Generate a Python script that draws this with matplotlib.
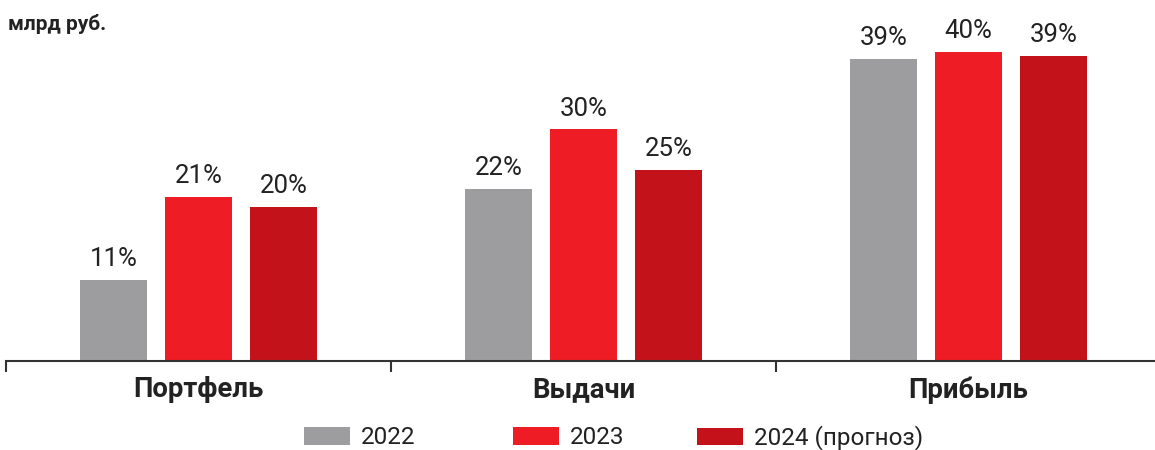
import matplotlib
matplotlib.use("Agg")
import matplotlib.pyplot as plt
from matplotlib.patches import Patch
import numpy as np

categories = ["Портфель", "Выдачи", "Прибыль"]
series_names = ["2022", "2023", "2024 (прогноз)"]
values_2022 = [10.5, 22.3, 39.1]
values_2023 = [21.2, 30.0, 40.0]
values_2024 = [19.9, 24.7, 39.5]
labels_2022 = ["11%", "22%", "39%"]
labels_2023 = ["21%", "30%", "40%"]
labels_2024 = ["20%", "25%", "39%"]
unit_label = "млрд руб."

colors = ["#9D9D9F", "#EE1C25", "#C4121A"]
plt.rcParams['font.family'] = ['Roboto', 'DejaVu Sans']

fig = plt.figure(figsize=(11.55, 4.5), dpi=100)
ax = fig.add_axes([6/1155, 89/450, 1149/1155, 361/450])

x = np.arange(len(categories))
width = 0.174
offset = 0.221
series = [values_2022, values_2023, values_2024]
labels = [labels_2022, labels_2023, labels_2024]
for i, (vals, labs) in enumerate(zip(series, labels)):
    xs = x + (i - 1) * offset
    ax.bar(xs, vals, width=width, color=colors[i], zorder=2)
    for xi, v, lab in zip(xs, vals, labs):
        ax.annotate(lab, (xi, v), xytext=(0, 10), textcoords="offset points",
                    ha="center", va="baseline", fontsize=18.5, color="#222222")

ax.set_xlim(-0.5, -0.5 + 1149/385)
ax.set_ylim(0, 361/7.72)
for s in ["top", "right", "left"]:
    ax.spines[s].set_visible(False)
ax.spines["bottom"].set_color("#333333")
ax.spines["bottom"].set_linewidth(1.5)
ax.set_yticks([])
ax.set_xticks(x)
ax.set_xticklabels(categories, fontsize=19.8, fontweight="bold", color="#222222")
ax.tick_params(axis="x", which="major", length=0, pad=11)
ax.set_xticks([-0.5, 0.5, 1.5], minor=True)
ax.tick_params(axis="x", which="minor", length=8, width=1.5, color="#333333")

fig.text(8/1155, 1 - 24/450, unit_label, fontsize=15, fontweight="bold",
         color="#222222", va="center", ha="left")

patch_x = [304, 513, 697]
for c, name, px in zip(colors, series_names, patch_x):
    h = Patch(facecolor=c, edgecolor="none")
    fig.legend([h], [name], loc="center left", bbox_to_anchor=(px/1155, 1 - 438/450),
               frameon=False, fontsize=17.5, handlelength=1.9, handleheight=0.75,
               handletextpad=0.45, borderpad=0, borderaxespad=0, labelcolor="#222222")

fig.savefig("out.png", dpi=100)
